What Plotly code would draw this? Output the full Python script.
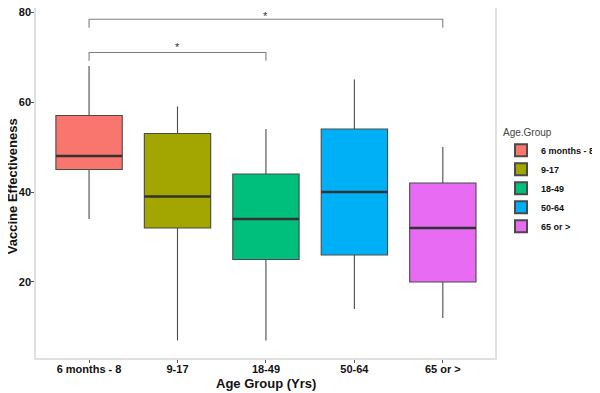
import plotly.graph_objects as go

categories = ["6 months - 8", "9-17", "18-49", "50-64", "65 or >"]
lower = [34, 7, 7, 14, 12]
q1 = [45, 32, 25, 26, 20]
median = [48, 39, 34, 40, 32]
q3 = [57, 53, 44, 54, 42]
upper = [68, 59, 54, 65, 50]
colors = ["#F8766D", "#A3A500", "#00BF7D", "#00B0F6", "#E76BF3"]
y_ticks = [20, 40, 60, 80]

# significance brackets
bracket_start = ["6 months - 8", "6 months - 8"]
bracket_end = ["18-49", "65 or >"]
bracket_y = [71, 78.4]
bracket_tick = [69.2, 76.5]
bracket_label = ["*", "*"]

FONT = "Liberation Sans, Arial, sans-serif"
BOXW = 0.75
PLOT_H = 350  # plot area height in px
PLOT_W = 462  # plot area width in px
PLOT_L = 28   # left margin in px

fig = go.Figure()
for i, cat in enumerate(categories):
    fig.add_trace(go.Box(
        x=[cat], q1=[q1[i]], median=[median[i]], q3=[q3[i]],
        lowerfence=[lower[i]], upperfence=[upper[i]],
        name=cat, fillcolor=colors[i],
        line=dict(color="#4a4a4a", width=1.1),
        width=BOXW, whiskerwidth=0, boxpoints=False,
        hoverinfo="skip",
    ))
    # thicker median line like ggplot
    fig.add_shape(type="line", xref="x", yref="y",
                  x0=i - BOXW / 2, x1=i + BOXW / 2, y0=median[i], y1=median[i],
                  line=dict(color="#333333", width=2.4))

for k, (s, e, y, t, lab) in enumerate(zip(bracket_start, bracket_end, bracket_y, bracket_tick, bracket_label)):
    fig.add_trace(go.Scatter(
        x=[s, s, e, e], y=[t, y, y, t], mode="lines", cliponaxis=False,
        line=dict(color="#808080", width=1.1), showlegend=False, hoverinfo="skip",
    ))
    mid = (categories.index(s) + categories.index(e)) / 2
    if k == len(bracket_y) - 1:
        # top bracket: star pinned just inside the top edge
        fig.add_annotation(x=mid, y=1, text=lab, showarrow=False,
                           xref="x", yref="paper", yanchor="top",
                           font=dict(family=FONT, size=11, color="#333333"))
    else:
        fig.add_annotation(x=mid, y=y + 3.0, text=lab, showarrow=False,
                           xref="x", yref="y", yanchor="top",
                           font=dict(family=FONT, size=11, color="#333333"))

# axis titles
fig.add_annotation(text="Age Group (Yrs)", xref="x", yref="paper",
                   x=2, y=-25 / PLOT_H, yanchor="middle", showarrow=False,
                   font=dict(family=FONT, size=13, color="#111111", weight="bold"))
fig.add_annotation(text="Vaccine Effectiveness", xref="paper", yref="paper",
                   x=-(PLOT_L - 4) / PLOT_W, xanchor="center",
                   y=1 - 178 / PLOT_H, yanchor="middle", textangle=-90, showarrow=False,
                   font=dict(family=FONT, size=13, color="#111111", weight="bold"))

# page body adds an 8px offset, so figure is 8px smaller than the window
fig.update_layout(
    width=592, height=385,
    margin=dict(l=PLOT_L, r=102, t=0, b=35),
    paper_bgcolor="white", plot_bgcolor="white",
    boxmode="overlay",
    font=dict(family=FONT, color="#222222"),
    showlegend=True,
    legend=dict(
        title=dict(text="Age.Group", font=dict(family=FONT, size=10, color="#444444", weight="normal")),
        x=1.014, xanchor="left", y=0.672, yanchor="top",
        font=dict(family=FONT, size=9, color="#111111", weight="bold"),
        tracegroupgap=0, itemsizing="constant",
    ),
    xaxis=dict(
        type="category", categoryorder="array", categoryarray=categories,
        range=[-0.6, 4.59], automargin=False,
        showline=True, linecolor="#e0e0e0", linewidth=1.5, mirror=False,
        ticks="outside", ticklen=3, tickcolor="#555555",
        showgrid=False, zeroline=False,
        tickfont=dict(family=FONT, size=11, color="#111111", weight="bold"),
    ),
    yaxis=dict(
        range=[3.1, 80.9], automargin=False,
        tickvals=y_ticks, ticklabeloverflow="allow",
        showline=True, linecolor="#e0e0e0", linewidth=1.5, mirror=True,
        ticks="outside", ticklen=3, tickcolor="#555555",
        showgrid=False, zeroline=False,
        tickfont=dict(family=FONT, size=11, color="#111111", weight="bold"),
    ),
)
try:
    fig.update_xaxes(ticklabelstandoff=-3)
    fig.update_yaxes(ticklabelstandoff=-2)
except Exception:
    pass

fig.write_html("out.html")
